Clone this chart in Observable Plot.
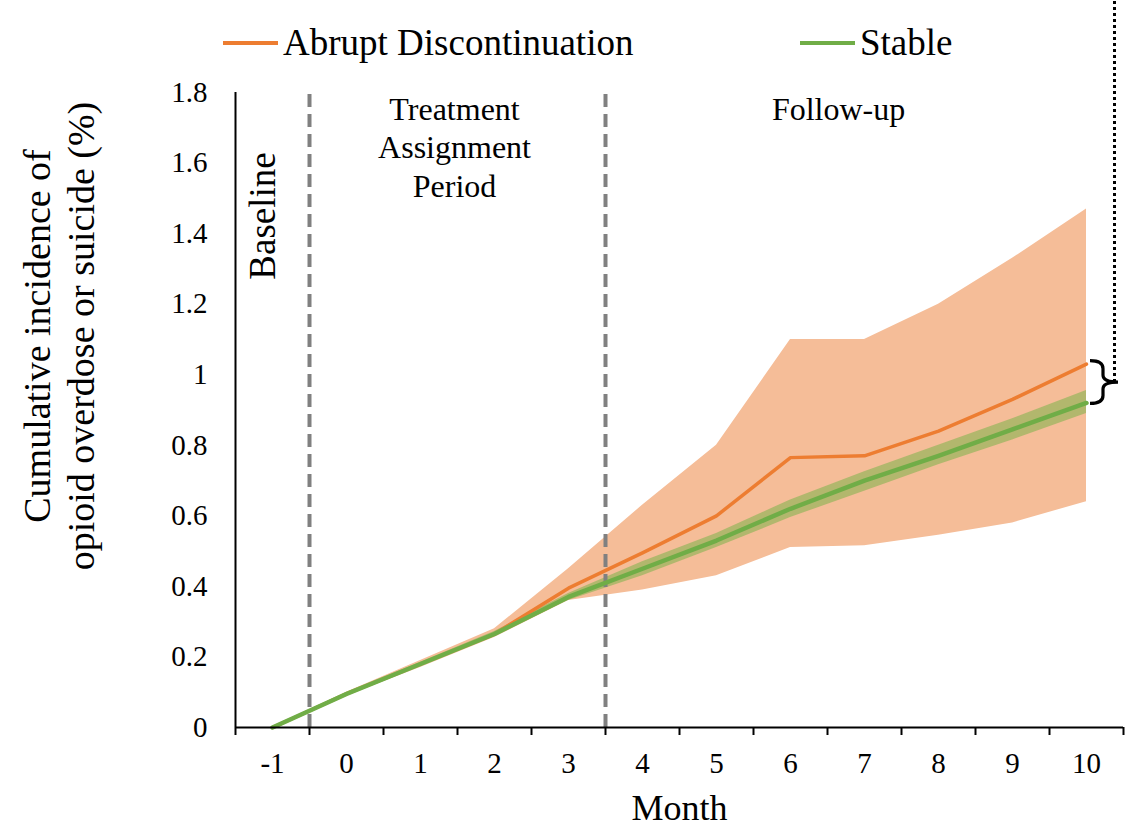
<!DOCTYPE html>
<html>
<head>
<meta charset="utf-8">
<script src="https://cdn.jsdelivr.net/npm/d3@7"></script>
<script src="https://cdn.jsdelivr.net/npm/@observablehq/plot@0.6"></script>
<style>
  html, body { margin: 0; padding: 0; background: #fff; }
  #wrap { position: relative; width: 1135px; height: 829px; font-family: "Liberation Serif", "Times New Roman", serif; }
  #legend { position: absolute; left: 0; top: 0; width: 1135px; height: 80px; }
  .item { position: absolute; top: 21px; display: flex; align-items: center; font-size: 37px; line-height: normal; color: #000; white-space: nowrap; }
  .sw { display: inline-block; width: 55px; height: 4px; margin-right: 5px; }
  #chart { position: absolute; left: 0; top: 0; }
  #chart svg text, #chart svg tspan { font-family: "Liberation Serif", "Times New Roman", serif; }
</style>
</head>
<body>
<div id="wrap">
  <div id="chart"></div>
  <div id="legend"></div>
</div>
<script>
// ---- data ----
const months = [-1, 0, 1, 2, 3, 4, 5, 6, 7, 8, 9, 10];
const abruptMean  = [0, 0.095, 0.18, 0.265, 0.395, 0.495, 0.60, 0.765, 0.77, 0.84, 0.93, 1.03];
const abruptLower = [0, 0.09, 0.17, 0.255, 0.36, 0.39, 0.43, 0.51, 0.515, 0.545, 0.58, 0.64];
const abruptUpper = [0, 0.10, 0.19, 0.28, 0.45, 0.63, 0.80, 1.10, 1.10, 1.20, 1.33, 1.47];
const stableMean  = [0, 0.095, 0.18, 0.265, 0.37, 0.45, 0.53, 0.62, 0.70, 0.77, 0.845, 0.92];
const stableLower = [0, 0.09, 0.175, 0.258, 0.36, 0.43, 0.51, 0.595, 0.67, 0.745, 0.815, 0.89];
const stableUpper = [0, 0.10, 0.185, 0.272, 0.38, 0.47, 0.55, 0.645, 0.725, 0.80, 0.875, 0.955];
const seriesNames = ["Abrupt Discontinuation", "Stable"];
const yTicks = [0, 0.2, 0.4, 0.6, 0.8, 1, 1.2, 1.4, 1.6, 1.8];
const periodBounds = [-0.5, 3.5];
const periodLabels = [
  {month: 1.46, value: 1.80, text: "Treatment\nAssignment\nPeriod"},
  {month: 6.65, value: 1.80, text: "Follow-up"}
];
const baselineLabel = [{month: -1.13, value: 1.45, text: "Baseline"}];

const colors = {line: ["#ED7D31", "#70AD47"], band: ["#F5BD98", "#8DB356"]};

const abrupt = months.map((m, i) => ({month: m, mean: abruptMean[i], lo: abruptLower[i], hi: abruptUpper[i]}));
const stable = months.map((m, i) => ({month: m, mean: stableMean[i], lo: stableLower[i], hi: stableUpper[i]}));
const tickBounds = d3.range(months.length + 1).map(i => months[0] - 0.5 + i);
const last = months.length - 1;

const font = "Liberation Serif";

// brace + dotted leader annotation, drawn through the plot's scales
function braceMark(index, scales) {
  const x0 = scales.x(months[last]) + 4;
  const y1 = scales.y(abruptMean[last]) - 3;
  const y2 = scales.y(stableMean[last]) + 1;
  const ym = (y1 + y2) / 2;
  const xs = x0 + 13, xt = x0 + 28;
  const g = d3.create("svg:g");
  g.append("path")
    .attr("d", `M${x0},${y1} Q${xs},${y1} ${xs},${y1 + 8} L${xs},${ym - 7} Q${xs},${ym} ${xt},${ym} Q${xs},${ym} ${xs},${ym + 7} L${xs},${y2 - 8} Q${xs},${y2} ${x0},${y2}`)
    .attr("fill", "none").attr("stroke", "#000").attr("stroke-width", 3.2);
  g.append("path")
    .attr("d", `M${xt - 3.5},${ym} V0`)
    .attr("fill", "none").attr("stroke", "#000").attr("stroke-width", 3).attr("stroke-dasharray", "3,3");
  return g.node();
}

const chart = Plot.plot({
  width: 1135,
  height: 829,
  marginLeft: 235,
  marginRight: 12,
  marginTop: 92,
  marginBottom: 102,
  style: {fontFamily: font, fontSize: "29px", color: "#000", background: "transparent", overflow: "visible"},
  x: {domain: [months[0] - 0.5, months[last] + 0.5]},
  y: {domain: [0, 1.8]},
  marks: [
    Plot.areaY(abrupt, {x: "month", y1: "lo", y2: "hi", fill: colors.band[0], fillOpacity: 1}),
    Plot.areaY(stable, {x: "month", y1: "lo", y2: "hi", fill: colors.band[1], fillOpacity: 0.65}),
    Plot.ruleX(periodBounds, {x: d => d, y1: 0, y2: 1.8, stroke: "#808080", strokeWidth: 4, strokeDasharray: "13,7"}),
    Plot.line(abrupt, {x: "month", y: "mean", stroke: colors.line[0], strokeWidth: 3.5}),
    Plot.line(stable, {x: "month", y: "mean", stroke: colors.line[1], strokeWidth: 4.5}),
    // axes
    Plot.axisY({ticks: yTicks, tickSize: 0, tickPadding: 28, tickFormat: d => `${+d.toFixed(1)}`, label: null, fontSize: 29, fontFamily: font}),
    Plot.axisX({ticks: tickBounds, tickSize: 8, strokeWidth: 2, tickFormat: () => "", label: null}),
    Plot.axisX({ticks: months, tickSize: 0, tickPadding: 25, tickFormat: d => String(d), label: null, fontSize: 29, fontFamily: font}),
    Plot.ruleY([0], {stroke: "#000", strokeWidth: 2}),
    Plot.ruleX([months[0] - 0.5], {y1: 0, y2: 1.8, stroke: "#000", strokeWidth: 2}),
    // axis titles
    Plot.text(["Month"], {frameAnchor: "bottom", dy: 81, fontSize: 36, fontFamily: font, lineAnchor: "middle"}),
    Plot.text(["Cumulative incidence of\nopioid overdose or suicide (%)"], {frameAnchor: "left", textAnchor: "middle", dx: -178, dy: -74, rotate: -90, fontSize: 38, fontFamily: font, lineHeight: 1.16, lineAnchor: "middle"}),
    // period labels
    Plot.text(periodLabels, {x: "month", y: "value", text: "text", fontSize: 32, fontFamily: font, lineHeight: 1.2, lineAnchor: "top"}),
    Plot.text(baselineLabel, {x: "month", y: "value", text: "text", rotate: -90, fontSize: 37, fontFamily: font, lineAnchor: "middle"}),
    // brace annotation
    braceMark
  ]
});
document.getElementById("chart").appendChild(chart);

// legend
const legend = document.getElementById("legend");
const legendLeft = [223, 800];
seriesNames.forEach((name, i) => {
  const it = document.createElement("div");
  it.className = "item";
  it.style.left = legendLeft[i] + "px";
  it.innerHTML = `<span class="sw" style="background:${colors.line[i]}"></span><span>${name}</span>`;
  legend.appendChild(it);
});
</script>
</body>
</html>
